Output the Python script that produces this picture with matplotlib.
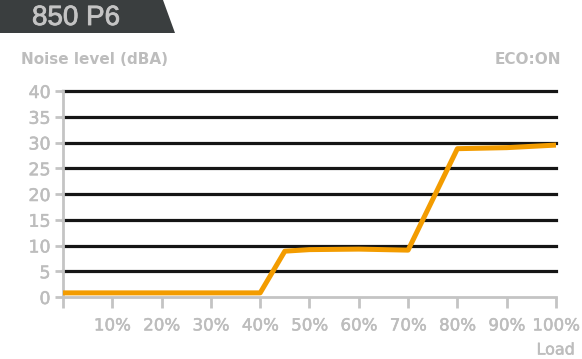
import matplotlib.pyplot as plt
import matplotlib.patheffects as pe
from matplotlib.patches import Polygon

load = [0, 10, 20, 30, 40, 45, 50, 60, 70, 80, 90, 100]
noise = [0.8, 0.8, 0.8, 0.8, 0.8, 8.9, 9.2, 9.3, 9.1, 28.8, 29.0, 29.5]
y_ticks = [0, 5, 10, 15, 20, 25, 30, 35, 40]
x_ticks = [0, 10, 20, 30, 40, 50, 60, 70, 80, 90, 100]
x_labels = [''] + [f'{v}%' for v in x_ticks[1:]]

grey = '#bdbdbd'
thick = [pe.withStroke(linewidth=0.35, foreground=grey)]
fig = plt.figure(figsize=(5.82, 3.59), dpi=100)
ax = fig.add_axes([0.1082, 0.1727, 0.8471, 0.5738])

for v in y_ticks[1:]:
    ax.axhline(v, color='#151515', lw=2.3, zorder=1, clip_on=False)
ax.plot(load, noise, color='#f39c00', lw=3.6, solid_joinstyle='round', zorder=3)

ax.set_xlim(0, 100)
ax.set_ylim(0, 40)
ax.set_yticks(y_ticks)
ax.set_xticks(x_ticks)
ax.set_xticklabels(x_labels)
for s in ['top', 'right']:
    ax.spines[s].set_visible(False)
for s in ['left', 'bottom']:
    ax.spines[s].set_color('#c4c4c4')
    ax.spines[s].set_linewidth(2)
ax.spines['left'].set_bounds(0, 40)
ax.tick_params(axis='y', colors='#c4c4c4', width=2, length=6, pad=3,
               labelsize=12.5, labelcolor=grey)
ax.tick_params(axis='x', colors='#c4c4c4', width=2, length=8, pad=6,
               labelsize=12, labelcolor=grey)
for t in ax.get_xticklabels() + ax.get_yticklabels():
    t.set_path_effects(thick)

# title banner
banner = Polygon([[0, 1], [163 / 582, 1], [175 / 582, 1 - 33 / 359], [0, 1 - 33 / 359]],
                 closed=True, transform=fig.transFigure, facecolor='#3a3e3f',
                 edgecolor='none')
fig.patches.append(banner)
fig.text(32 / 582, 1 - 18 / 359, '850 P6', color='#c4c4c4', fontsize=20,
         family='Liberation Sans', va='center', ha='left',
         path_effects=[pe.withStroke(linewidth=0.6, foreground='#c4c4c4')])

fig.text(21 / 582, 1 - 60 / 359, 'Noise level (dBA)', color=grey, fontsize=11,
         fontweight='bold', va='center', ha='left')
fig.text(561 / 582, 1 - 60 / 359, 'ECO:ON', color=grey, fontsize=11,
         fontweight='bold', va='center', ha='right')
fig.text(575 / 582, 1 - 350 / 359, 'Load', color=grey, fontsize=11.5,
         va='center', ha='right', path_effects=thick)

fig.savefig('out.png', dpi=100)
